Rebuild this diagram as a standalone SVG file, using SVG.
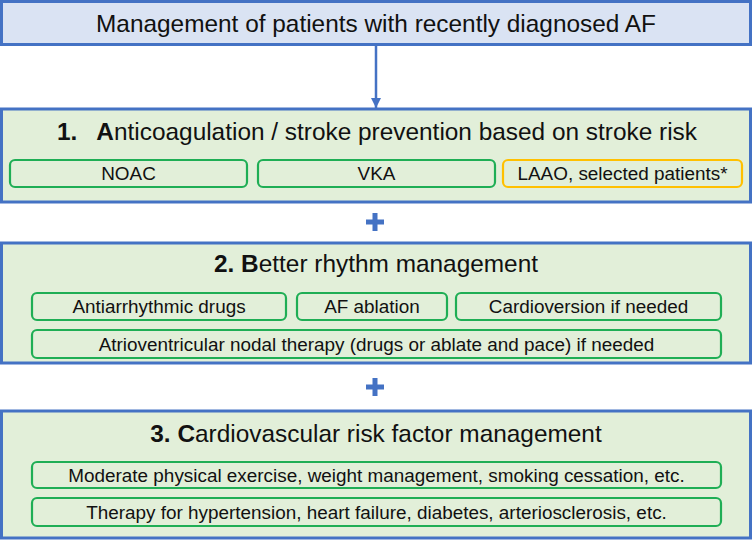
<svg xmlns="http://www.w3.org/2000/svg" width="753" height="541" viewBox="0 0 753 541">
<defs>
<style>
.main{fill:#e2efd9;stroke:#4472c4;stroke-width:3}
.top{fill:#dae3f3;stroke:#4472c4;stroke-width:3}
.sub{fill:none;stroke:#1fae55;stroke-width:2.2}
.subo{fill:none;stroke:#ffc000;stroke-width:2.2}
.t{font-family:"Liberation Sans",Arial,sans-serif;fill:#111;text-anchor:middle}
.h{font-size:24.4px}
.s{font-size:18.9px}
.b{font-weight:bold}
.conn{stroke:#4472c4;fill:none}
</style>
<marker id="ah" viewBox="0 0 10 10" refX="10" refY="5" markerWidth="10" markerHeight="10" markerUnits="userSpaceOnUse" orient="auto">
<path d="M0,0 L10,5 L0,10 z" fill="#4472c4"/>
</marker>
</defs>
<rect width="753" height="541" fill="#ffffff"/>
<g id="connectors">
<line class="conn" x1="376" y1="45" x2="376" y2="108" stroke-width="2.5" marker-end="url(#ah)"/>
<path class="conn" d="M366,222 H384 M375,213 V231" stroke-width="5"/>
<path class="conn" d="M366,387 H384 M375,378 V396" stroke-width="5"/>
</g>
<g id="top">
<rect class="top" x="1.5" y="1.5" width="749" height="43"/>
<text class="t h" x="376" y="32">Management of patients with recently diagnosed AF</text>
</g>
<g id="box1">
<rect class="main" x="1.5" y="109" width="749" height="93"/>
<text class="t h" x="377" y="140"><tspan class="b">1.</tspan><tspan dx="19"><tspan class="b">A</tspan>nticoagulation / stroke prevention based on stroke risk</tspan></text>
</g>
<g id="noac">
<rect class="sub" x="10" y="160" width="237" height="27" rx="5"/>
<text class="t s" x="128.5" y="180">NOAC</text>
</g>
<g id="vka">
<rect class="sub" x="258" y="160" width="237" height="27" rx="5"/>
<text class="t s" x="376.5" y="180">VKA</text>
</g>
<g id="laao">
<rect class="subo" x="503" y="160" width="239" height="27" rx="5"/>
<text class="t s" x="622.5" y="180">LAAO, selected patients*</text>
</g>
<g id="box2">
<rect class="main" x="1.5" y="243" width="749" height="120"/>
<text class="t h" x="376" y="272"><tspan class="b">2. B</tspan>etter rhythm management</text>
</g>
<g id="aad">
<rect class="sub" x="32" y="293" width="254" height="27" rx="5"/>
<text class="t s" x="159" y="313">Antiarrhythmic drugs</text>
</g>
<g id="ablation">
<rect class="sub" x="297" y="293" width="150" height="27" rx="5"/>
<text class="t s" x="372" y="313">AF ablation</text>
</g>
<g id="cardioversion">
<rect class="sub" x="456" y="293" width="265" height="27" rx="5"/>
<text class="t s" x="588.5" y="313">Cardioversion if needed</text>
</g>
<g id="avnodal">
<rect class="sub" x="32" y="330" width="689" height="28" rx="5"/>
<text class="t s" x="376.5" y="350.5">Atrioventricular nodal therapy (drugs or ablate and pace) if needed</text>
</g>
<g id="box3">
<rect class="main" x="1.5" y="411" width="749" height="127"/>
<text class="t h" x="376" y="442"><tspan class="b">3. C</tspan>ardiovascular risk factor management</text>
</g>
<g id="lifestyle">
<rect class="sub" x="32" y="462" width="689" height="26" rx="5"/>
<text class="t s" x="376.5" y="481.5">Moderate physical exercise, weight management, smoking cessation, etc.</text>
</g>
<g id="therapy">
<rect class="sub" x="32" y="498" width="689" height="28" rx="5"/>
<text class="t s" x="376.5" y="518.5">Therapy for hypertension, heart failure, diabetes, arteriosclerosis, etc.</text>
</g>
</svg>
